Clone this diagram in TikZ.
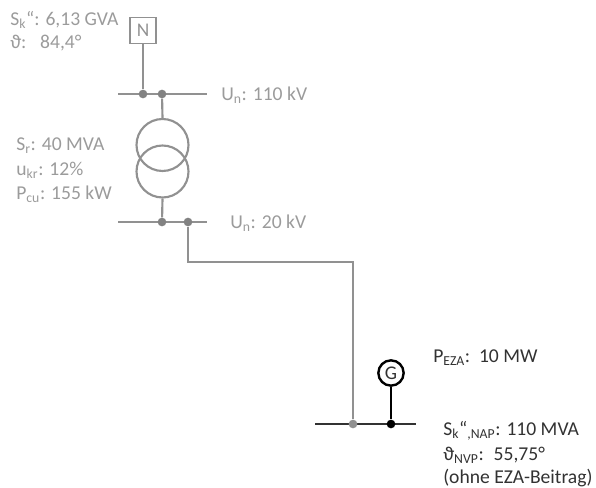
\documentclass[tikz,border=0pt]{standalone}
\usepackage{fontspec}
\setmainfont{Carlito}
\definecolor{gl}{RGB}{145,145,145}
\definecolor{gt}{RGB}{155,155,155}
\definecolor{dk}{RGB}{50,50,50}
\tikzset{
  x=0.75pt,y=-0.75pt,
  wire/.style={line width=2pt,draw=gl},
  wirethin/.style={line width=1.6pt,draw=gl},
  dwire/.style={line width=2pt,draw=black},
  jdot/.style={circle,fill=#1,inner sep=0pt,minimum size=6.5pt},
  coil/.style={circle,draw=gl,line width=1.6pt,inner sep=0pt,minimum size=39pt},
  lab/.style={anchor=west,inner sep=0pt,font=\fontsize{14.7}{17}\selectfont,align=left},
  glab/.style={lab,text=gt},
  blab/.style={lab,text=dk},
}
\newcommand{\sbs}[1]{\textsubscript{#1}}
\begin{document}
\begin{tikzpicture}
\useasboundingbox (0,0) rectangle (596,488);
% network box
\node[draw=gl,line width=1.4pt,minimum size=19.5pt,inner sep=0pt,text=gl,font=\fontsize{14.5}{15}\selectfont] (N) at (143,30.5) {N};
% buses
\coordinate (b1l) at (118,94); \coordinate (b1r) at (207,94);
\coordinate (b2l) at (118,222); \coordinate (b2r) at (207,222);
\coordinate (b3l) at (315,424); \coordinate (b3r) at (416,424);
\draw[wire] (b1l) -- (b1r);
\draw[wire] (b2l) -- (b2r);
\draw[line width=2pt,draw=dk] (b3l) -- (b3r);
\node[jdot=gl!90!black] (j1) at (143,94) {};
\node[jdot=gl!90!black] (j2) at (162,94) {};
\node[jdot=gl!90!black] (j3) at (162,222) {};
\node[jdot=gl!90!black] (j4) at (188,222) {};
\node[jdot=gl] (j5) at (353,424) {};
\node[jdot=black] (j6) at (391,424) {};
% transformer
\node[coil] (t1) at (162.5,145) {};
\node[coil] (t2) at (162.5,171.5) {};
% generator
\node[circle,draw=black,line width=1.8pt,minimum size=19pt,inner sep=0pt,text=dk,font=\fontsize{14.5}{15}\selectfont] (G) at (391,373) {G};
% connectors
\draw[wire] (N.south) -- (j1);
\draw[wirethin] (j2) -- (t1.north);
\draw[wirethin] (t2.south) -- (j3);
\draw[wire] (j4) |- (270,262) -| (j5);
\draw[dwire] (G.south) -- (j6);
% labels
\node[glab] (l1) at (10,19.5) {S\sbs{k}“: 6,13 GVA};
\node[glab] (l2) at (10,43) {ϑ:\hspace{0.7em}84,4°};
\node[glab] (l3) at (221,95) {U\sbs{n}: 110 kV};
\node[glab] (l4) at (16,146) {S\sbs{r}: 40 MVA};
\node[glab] (l5) at (16,170.5) {u\sbs{kr}: 12\%};
\node[glab] (l6) at (16,194) {P\sbs{cu}: 155 kW};
\node[glab] (l7) at (230,223) {U\sbs{n}: 20 kV};
\node[blab] (l8) at (433,358) {P\sbs{EZA}:\hspace{0.45em}10 MW};
\node[blab] (l9) at (443,431) {S\sbs{k}“\sbs{,NAP}: 110 MVA};
\node[blab] (l10) at (443,455) {ϑ\sbs{NVP}:\hspace{0.5em}55,75°};
\node[blab] (l11) at (443,478) {(ohne EZA-Beitrag)};
\end{tikzpicture}
\end{document}
